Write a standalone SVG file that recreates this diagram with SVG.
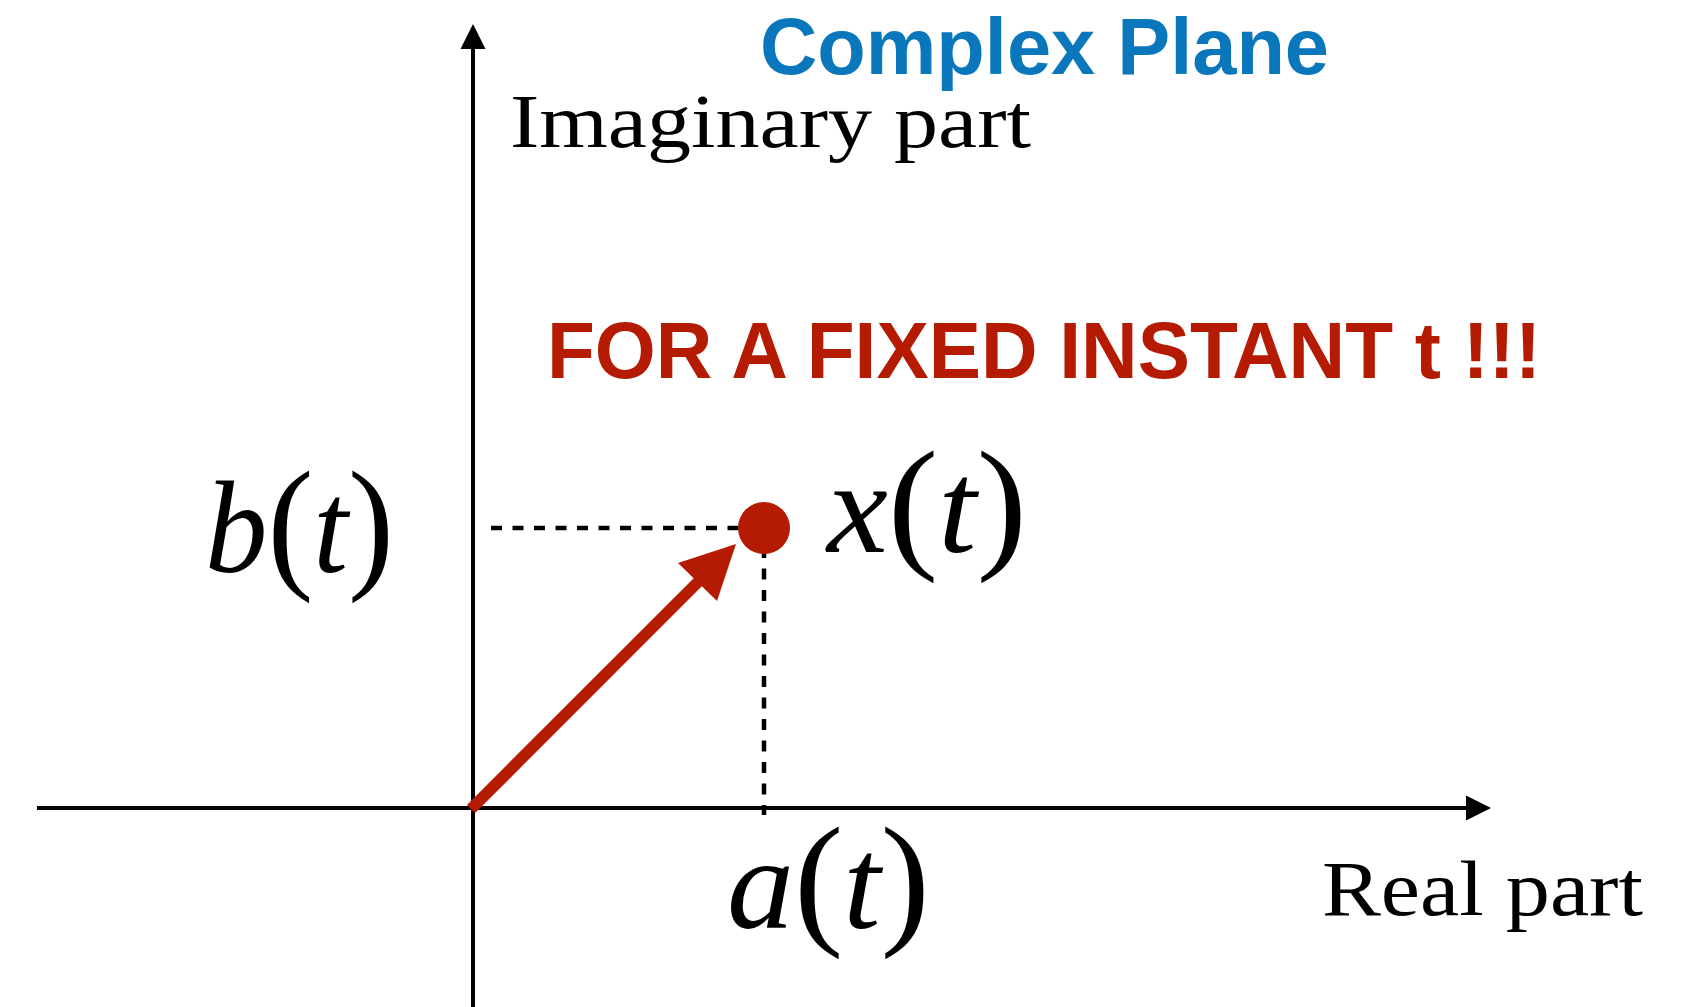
<svg xmlns="http://www.w3.org/2000/svg" width="1706" height="1007" viewBox="0 0 1706 1007">
<style>
.axis{stroke:#000;stroke-width:4;fill:none}
.dash{stroke:#000;stroke-width:4.5;fill:none;stroke-dasharray:11 10.5}
.serif{font-family:"Liberation Serif","Times New Roman",serif;fill:#000}
.math{font-family:"Liberation Serif","Times New Roman",serif;fill:#000;font-size:132px}
.it{font-style:italic}
.par{font-size:146px;font-weight:300}
.title{font-family:"Liberation Sans",Arial,sans-serif;font-weight:bold;fill:#0a77bc}
.note{font-family:"Liberation Sans",Arial,sans-serif;font-weight:bold;fill:#b51a02}
</style>
<rect width="1706" height="1007" fill="#fff"/>
<g id="connectors">
<line class="axis" x1="37" y1="808" x2="1468" y2="808"/>
<path d="M1491,808 L1466,795.5 L1466,820.5 Z" fill="#000"/>
<line class="axis" x1="473" y1="1007" x2="473" y2="46"/>
<path d="M473,24 L460.5,49 L485.5,49 Z" fill="#000"/>
<line class="dash" x1="491" y1="528" x2="780" y2="528"/>
<line class="dash" x1="764" y1="547" x2="764" y2="815"/>
<g id="vector">
<line x1="471" y1="809" x2="708" y2="572" stroke="#b51a02" stroke-width="11.5"/>
<path d="M736,544 L678,563 L717,601 Z" fill="#b51a02"/>
</g>
</g>
<g id="point-x">
<circle cx="764" cy="528" r="26" fill="#b51a02"/>
</g>
<g id="label-title">
<text class="title" x="760" y="74" font-size="80" textLength="569" lengthAdjust="spacingAndGlyphs">Complex Plane</text>
</g>
<g id="label-imag">
<text class="serif" x="510" y="147" font-size="76" textLength="521" lengthAdjust="spacingAndGlyphs">Imaginary part</text>
</g>
<g id="label-real">
<text class="serif" x="1322" y="915" font-size="78" textLength="321" lengthAdjust="spacingAndGlyphs">Real part</text>
</g>
<g id="label-note">
<text class="note" x="547" y="378" font-size="79" textLength="994" lengthAdjust="spacingAndGlyphs">FOR A FIXED INSTANT t !!!</text>
</g>
<g id="label-b">
<text class="math" x="205" y="572" textLength="189" lengthAdjust="spacingAndGlyphs"><tspan class="it">b</tspan><tspan class="par">(</tspan><tspan class="it">t</tspan><tspan class="par">)</tspan></text>
</g>
<g id="label-x">
<text class="math" x="827" y="552" textLength="200" lengthAdjust="spacingAndGlyphs"><tspan class="it">x</tspan><tspan class="par">(</tspan><tspan class="it">t</tspan><tspan class="par">)</tspan></text>
</g>
<g id="label-a">
<text class="math" x="727" y="928" textLength="203" lengthAdjust="spacingAndGlyphs"><tspan class="it">a</tspan><tspan class="par">(</tspan><tspan class="it">t</tspan><tspan class="par">)</tspan></text>
</g>
</svg>
